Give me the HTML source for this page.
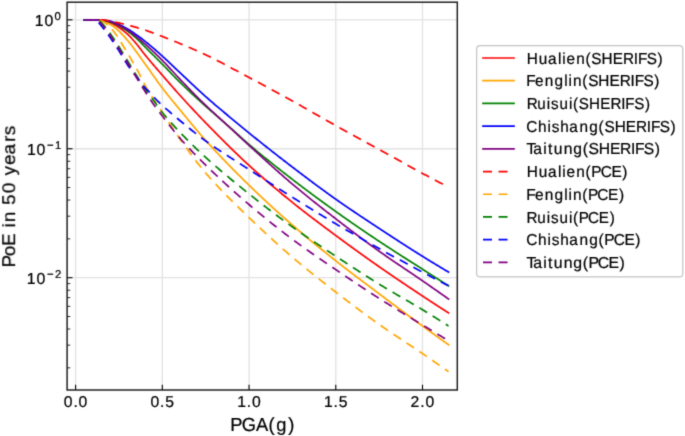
<!DOCTYPE html><html><head><meta charset="utf-8"><style>
html,body{margin:0;padding:0;background:#fff;width:685px;height:436px;overflow:hidden}
svg{display:block} text{font-family:"Liberation Sans",sans-serif;fill:#000;stroke:#000;stroke-width:0.22px}
</style></head><body>
<svg width="685" height="436" viewBox="0 0 685 436">
<defs><filter id="soft" x="0" y="0" width="1" height="1" color-interpolation-filters="sRGB"><feConvolveMatrix order="3" kernelMatrix="0.01917 0.10012 0.01917 0.10012 0.52283 0.10012 0.01917 0.10012 0.01917" divisor="1" edgeMode="duplicate"/></filter></defs>
<g filter="url(#soft)">
<rect x="0" y="0" width="685" height="436" fill="#fff"/>
<g stroke="#e2e2e2" stroke-width="1.3" fill="none">
<line x1="75.60" y1="2.2" x2="75.60" y2="390.0"/>
<line x1="162.32" y1="2.2" x2="162.32" y2="390.0"/>
<line x1="249.05" y1="2.2" x2="249.05" y2="390.0"/>
<line x1="335.77" y1="2.2" x2="335.77" y2="390.0"/>
<line x1="422.50" y1="2.2" x2="422.50" y2="390.0"/>
<line x1="67.1" y1="19.80" x2="457.3" y2="19.80"/>
<line x1="67.1" y1="148.75" x2="457.3" y2="148.75"/>
<line x1="67.1" y1="277.70" x2="457.3" y2="277.70"/>
</g>
<defs><clipPath id="ax"><rect x="67.1" y="2.2" width="390.2" height="387.8"/></clipPath></defs>
<g clip-path="url(#ax)" fill="none" stroke-width="1.70" stroke-linejoin="round">
<path d="M84.27 19.80 L85.19 19.80 L86.10 19.80 L87.01 19.80 L87.92 19.80 L88.84 19.80 L89.75 19.80 L90.66 19.80 L91.58 19.80 L92.49 19.80 L93.40 19.80 L94.31 19.80 L95.23 19.80 L96.14 19.80 L97.05 19.81 L97.97 19.85 L98.88 19.91 L99.79 20.00 L100.70 20.10 L101.62 20.20 L102.53 20.33 L103.44 20.51 L104.36 20.74 L105.27 21.00 L106.18 21.29 L107.09 21.60 L108.01 21.93 L108.92 22.27 L109.83 22.62 L110.75 22.98 L111.66 23.38 L112.57 23.81 L113.49 24.28 L114.40 24.77 L115.31 25.29 L116.22 25.82 L117.14 26.38 L118.05 26.95 L118.96 27.55 L119.88 28.17 L120.79 28.81 L121.70 29.47 L122.61 30.16 L123.53 30.86 L124.44 31.59 L125.35 32.34 L126.27 33.11 L127.18 33.90 L128.09 34.71 L129.00 35.58 L129.92 36.49 L130.83 37.45 L131.74 38.45 L132.66 39.47 L133.57 40.51 L134.48 41.57 L135.39 42.64 L136.31 43.71 L137.22 44.81 L138.13 45.96 L139.05 47.12 L139.96 48.31 L140.87 49.51 L141.78 50.71 L142.70 51.90 L143.61 53.08 L144.52 54.23 L145.44 55.36 L146.35 56.47 L147.26 57.58 L148.18 58.68 L149.09 59.77 L150.00 60.86 L150.91 61.94 L151.83 63.01 L152.74 64.08 L153.65 65.15 L154.57 66.22 L155.48 67.28 L156.39 68.34 L157.30 69.39 L158.22 70.45 L159.13 71.50 L160.04 72.56 L160.96 73.62 L161.87 74.67 L162.78 75.73 L163.69 76.79 L164.61 77.84 L165.52 78.90 L166.43 79.96 L167.35 81.01 L168.26 82.06 L169.17 83.12 L170.08 84.17 L171.00 85.21 L171.91 86.26 L172.82 87.30 L173.74 88.34 L174.65 89.38 L175.56 90.41 L176.47 91.44 L177.39 92.46 L178.30 93.48 L179.21 94.49 L180.13 95.50 L181.04 96.51 L181.95 97.52 L182.87 98.52 L183.78 99.52 L184.69 100.52 L185.60 101.52 L186.52 102.51 L187.43 103.50 L188.34 104.49 L189.26 105.48 L190.17 106.46 L191.08 107.44 L191.99 108.42 L192.91 109.40 L193.82 110.38 L194.73 111.35 L195.65 112.32 L196.56 113.28 L197.47 114.25 L198.38 115.21 L199.30 116.17 L200.21 117.12 L201.12 118.08 L202.04 119.03 L202.95 119.97 L203.86 120.92 L204.77 121.86 L205.69 122.80 L206.60 123.74 L207.51 124.67 L208.43 125.61 L209.34 126.54 L210.25 127.48 L211.16 128.41 L212.08 129.34 L212.99 130.27 L213.90 131.20 L214.82 132.13 L215.73 133.05 L216.64 133.98 L217.56 134.90 L218.47 135.82 L219.38 136.74 L220.29 137.66 L221.21 138.58 L222.12 139.49 L223.03 140.41 L223.95 141.32 L224.86 142.23 L225.77 143.14 L226.68 144.04 L227.60 144.94 L228.51 145.84 L229.42 146.74 L230.34 147.64 L231.25 148.53 L232.16 149.42 L233.07 150.31 L233.99 151.20 L234.90 152.08 L235.81 152.96 L236.73 153.84 L237.64 154.72 L238.55 155.59 L239.46 156.46 L240.38 157.33 L241.29 158.19 L242.20 159.05 L243.12 159.91 L244.03 160.76 L244.94 161.61 L245.85 162.46 L246.77 163.30 L247.68 164.15 L248.59 164.98 L249.51 165.82 L250.42 166.65 L251.33 167.48 L252.25 168.30 L253.16 169.12 L254.07 169.94 L254.98 170.76 L255.90 171.58 L256.81 172.39 L257.72 173.20 L258.64 174.01 L259.55 174.81 L260.46 175.61 L261.37 176.41 L262.29 177.21 L263.20 178.01 L264.11 178.80 L265.03 179.59 L265.94 180.38 L266.85 181.17 L267.76 181.95 L268.68 182.73 L269.59 183.51 L270.50 184.29 L271.42 185.06 L272.33 185.84 L273.24 186.61 L274.15 187.38 L275.07 188.15 L275.98 188.91 L276.89 189.68 L277.81 190.44 L278.72 191.20 L279.63 191.96 L280.54 192.71 L281.46 193.47 L282.37 194.22 L283.28 194.97 L284.20 195.72 L285.11 196.47 L286.02 197.22 L286.94 197.96 L287.85 198.70 L288.76 199.45 L289.67 200.19 L290.59 200.93 L291.50 201.66 L292.41 202.40 L293.33 203.13 L294.24 203.87 L295.15 204.60 L296.06 205.32 L296.98 206.05 L297.89 206.77 L298.80 207.49 L299.72 208.21 L300.63 208.93 L301.54 209.64 L302.45 210.36 L303.37 211.07 L304.28 211.78 L305.19 212.49 L306.11 213.19 L307.02 213.90 L307.93 214.60 L308.84 215.30 L309.76 216.00 L310.67 216.70 L311.58 217.39 L312.50 218.09 L313.41 218.78 L314.32 219.48 L315.23 220.17 L316.15 220.86 L317.06 221.55 L317.97 222.23 L318.89 222.92 L319.80 223.61 L320.71 224.29 L321.63 224.98 L322.54 225.66 L323.45 226.34 L324.36 227.02 L325.28 227.70 L326.19 228.38 L327.10 229.06 L328.02 229.74 L328.93 230.42 L329.84 231.10 L330.75 231.78 L331.67 232.46 L332.58 233.13 L333.49 233.81 L334.41 234.49 L335.32 235.16 L336.23 235.84 L337.14 236.51 L338.06 237.19 L338.97 237.86 L339.88 238.54 L340.80 239.21 L341.71 239.88 L342.62 240.55 L343.53 241.22 L344.45 241.89 L345.36 242.56 L346.27 243.23 L347.19 243.89 L348.10 244.56 L349.01 245.22 L349.92 245.89 L350.84 246.55 L351.75 247.21 L352.66 247.88 L353.58 248.54 L354.49 249.20 L355.40 249.86 L356.32 250.52 L357.23 251.17 L358.14 251.83 L359.05 252.49 L359.97 253.14 L360.88 253.80 L361.79 254.45 L362.71 255.10 L363.62 255.75 L364.53 256.41 L365.44 257.06 L366.36 257.70 L367.27 258.35 L368.18 259.00 L369.10 259.65 L370.01 260.29 L370.92 260.94 L371.83 261.58 L372.75 262.22 L373.66 262.87 L374.57 263.51 L375.49 264.15 L376.40 264.79 L377.31 265.43 L378.22 266.06 L379.14 266.70 L380.05 267.34 L380.96 267.97 L381.88 268.60 L382.79 269.24 L383.70 269.87 L384.61 270.50 L385.53 271.13 L386.44 271.76 L387.35 272.38 L388.27 273.01 L389.18 273.64 L390.09 274.26 L391.01 274.89 L391.92 275.51 L392.83 276.13 L393.74 276.75 L394.66 277.37 L395.57 277.99 L396.48 278.61 L397.40 279.23 L398.31 279.85 L399.22 280.47 L400.13 281.08 L401.05 281.70 L401.96 282.31 L402.87 282.93 L403.79 283.54 L404.70 284.15 L405.61 284.76 L406.52 285.38 L407.44 285.99 L408.35 286.60 L409.26 287.21 L410.18 287.82 L411.09 288.43 L412.00 289.03 L412.91 289.64 L413.83 290.25 L414.74 290.86 L415.65 291.46 L416.57 292.07 L417.48 292.67 L418.39 293.28 L419.30 293.89 L420.22 294.49 L421.13 295.09 L422.04 295.70 L422.96 296.30 L423.87 296.90 L424.78 297.51 L425.70 298.11 L426.61 298.71 L427.52 299.31 L428.43 299.91 L429.35 300.50 L430.26 301.10 L431.17 301.70 L432.09 302.29 L433.00 302.89 L433.91 303.48 L434.82 304.08 L435.74 304.67 L436.65 305.26 L437.56 305.85 L438.48 306.44 L439.39 307.03 L440.30 307.62 L441.21 308.21 L442.13 308.80 L443.04 309.39 L443.95 309.97 L444.87 310.56 L445.78 311.15 L446.69 311.73 L447.60 312.32 L448.52 312.90" stroke="#ff0000" stroke-linecap="square"/>
<path d="M84.27 19.80 L85.19 19.80 L86.10 19.80 L87.01 19.80 L87.92 19.80 L88.84 19.80 L89.75 19.80 L90.66 19.80 L91.58 19.80 L92.49 19.80 L93.40 19.80 L94.31 19.80 L95.23 19.80 L96.14 19.80 L97.05 19.82 L97.97 19.88 L98.88 20.00 L99.79 20.15 L100.70 20.32 L101.62 20.50 L102.53 20.72 L103.44 21.01 L104.36 21.37 L105.27 21.78 L106.18 22.23 L107.09 22.71 L108.01 23.21 L108.92 23.73 L109.83 24.24 L110.75 24.76 L111.66 25.30 L112.57 25.89 L113.49 26.50 L114.40 27.16 L115.31 27.84 L116.22 28.57 L117.14 29.34 L118.05 30.16 L118.96 31.01 L119.88 31.91 L120.79 32.84 L121.70 33.80 L122.61 34.78 L123.53 35.79 L124.44 36.82 L125.35 37.86 L126.27 38.91 L127.18 39.97 L128.09 41.04 L129.00 42.13 L129.92 43.25 L130.83 44.40 L131.74 45.57 L132.66 46.76 L133.57 47.97 L134.48 49.20 L135.39 50.45 L136.31 51.70 L137.22 52.97 L138.13 54.24 L139.05 55.52 L139.96 56.80 L140.87 58.09 L141.78 59.37 L142.70 60.64 L143.61 61.91 L144.52 63.17 L145.44 64.43 L146.35 65.69 L147.26 66.96 L148.18 68.24 L149.09 69.53 L150.00 70.82 L150.91 72.12 L151.83 73.42 L152.74 74.72 L153.65 76.02 L154.57 77.32 L155.48 78.61 L156.39 79.90 L157.30 81.18 L158.22 82.45 L159.13 83.70 L160.04 84.95 L160.96 86.18 L161.87 87.40 L162.78 88.60 L163.69 89.78 L164.61 90.96 L165.52 92.13 L166.43 93.29 L167.35 94.43 L168.26 95.58 L169.17 96.71 L170.08 97.84 L171.00 98.96 L171.91 100.08 L172.82 101.20 L173.74 102.31 L174.65 103.41 L175.56 104.52 L176.47 105.63 L177.39 106.73 L178.30 107.84 L179.21 108.95 L180.13 110.05 L181.04 111.16 L181.95 112.28 L182.87 113.39 L183.78 114.50 L184.69 115.61 L185.60 116.72 L186.52 117.83 L187.43 118.94 L188.34 120.05 L189.26 121.16 L190.17 122.26 L191.08 123.36 L191.99 124.46 L192.91 125.56 L193.82 126.65 L194.73 127.74 L195.65 128.83 L196.56 129.91 L197.47 130.98 L198.38 132.05 L199.30 133.12 L200.21 134.18 L201.12 135.23 L202.04 136.28 L202.95 137.32 L203.86 138.36 L204.77 139.38 L205.69 140.40 L206.60 141.41 L207.51 142.42 L208.43 143.43 L209.34 144.43 L210.25 145.43 L211.16 146.42 L212.08 147.41 L212.99 148.40 L213.90 149.39 L214.82 150.37 L215.73 151.35 L216.64 152.32 L217.56 153.29 L218.47 154.26 L219.38 155.23 L220.29 156.19 L221.21 157.15 L222.12 158.10 L223.03 159.06 L223.95 160.01 L224.86 160.96 L225.77 161.90 L226.68 162.84 L227.60 163.78 L228.51 164.72 L229.42 165.65 L230.34 166.59 L231.25 167.52 L232.16 168.44 L233.07 169.37 L233.99 170.29 L234.90 171.21 L235.81 172.13 L236.73 173.04 L237.64 173.95 L238.55 174.86 L239.46 175.77 L240.38 176.68 L241.29 177.59 L242.20 178.49 L243.12 179.39 L244.03 180.29 L244.94 181.18 L245.85 182.08 L246.77 182.97 L247.68 183.87 L248.59 184.76 L249.51 185.64 L250.42 186.53 L251.33 187.41 L252.25 188.30 L253.16 189.18 L254.07 190.06 L254.98 190.93 L255.90 191.80 L256.81 192.68 L257.72 193.55 L258.64 194.41 L259.55 195.28 L260.46 196.14 L261.37 197.00 L262.29 197.86 L263.20 198.72 L264.11 199.58 L265.03 200.43 L265.94 201.28 L266.85 202.13 L267.76 202.98 L268.68 203.82 L269.59 204.66 L270.50 205.51 L271.42 206.34 L272.33 207.18 L273.24 208.02 L274.15 208.85 L275.07 209.68 L275.98 210.51 L276.89 211.34 L277.81 212.16 L278.72 212.99 L279.63 213.81 L280.54 214.63 L281.46 215.44 L282.37 216.26 L283.28 217.07 L284.20 217.88 L285.11 218.69 L286.02 219.50 L286.94 220.31 L287.85 221.11 L288.76 221.91 L289.67 222.71 L290.59 223.51 L291.50 224.31 L292.41 225.10 L293.33 225.89 L294.24 226.68 L295.15 227.47 L296.06 228.26 L296.98 229.04 L297.89 229.82 L298.80 230.60 L299.72 231.38 L300.63 232.15 L301.54 232.93 L302.45 233.70 L303.37 234.47 L304.28 235.23 L305.19 236.00 L306.11 236.76 L307.02 237.52 L307.93 238.28 L308.84 239.04 L309.76 239.80 L310.67 240.56 L311.58 241.31 L312.50 242.06 L313.41 242.81 L314.32 243.56 L315.23 244.31 L316.15 245.05 L317.06 245.80 L317.97 246.54 L318.89 247.28 L319.80 248.02 L320.71 248.76 L321.63 249.50 L322.54 250.24 L323.45 250.97 L324.36 251.71 L325.28 252.44 L326.19 253.17 L327.10 253.90 L328.02 254.63 L328.93 255.36 L329.84 256.09 L330.75 256.82 L331.67 257.54 L332.58 258.27 L333.49 258.99 L334.41 259.72 L335.32 260.44 L336.23 261.16 L337.14 261.88 L338.06 262.60 L338.97 263.32 L339.88 264.03 L340.80 264.74 L341.71 265.45 L342.62 266.16 L343.53 266.87 L344.45 267.58 L345.36 268.28 L346.27 268.99 L347.19 269.69 L348.10 270.39 L349.01 271.09 L349.92 271.79 L350.84 272.49 L351.75 273.18 L352.66 273.88 L353.58 274.57 L354.49 275.27 L355.40 275.96 L356.32 276.65 L357.23 277.34 L358.14 278.03 L359.05 278.72 L359.97 279.41 L360.88 280.10 L361.79 280.78 L362.71 281.47 L363.62 282.16 L364.53 282.84 L365.44 283.53 L366.36 284.21 L367.27 284.90 L368.18 285.58 L369.10 286.27 L370.01 286.95 L370.92 287.64 L371.83 288.32 L372.75 289.00 L373.66 289.69 L374.57 290.37 L375.49 291.06 L376.40 291.74 L377.31 292.43 L378.22 293.11 L379.14 293.80 L380.05 294.49 L380.96 295.17 L381.88 295.86 L382.79 296.54 L383.70 297.23 L384.61 297.91 L385.53 298.60 L386.44 299.28 L387.35 299.97 L388.27 300.65 L389.18 301.33 L390.09 302.02 L391.01 302.70 L391.92 303.38 L392.83 304.07 L393.74 304.75 L394.66 305.43 L395.57 306.11 L396.48 306.79 L397.40 307.47 L398.31 308.15 L399.22 308.83 L400.13 309.51 L401.05 310.19 L401.96 310.87 L402.87 311.55 L403.79 312.22 L404.70 312.90 L405.61 313.58 L406.52 314.25 L407.44 314.93 L408.35 315.61 L409.26 316.28 L410.18 316.95 L411.09 317.63 L412.00 318.30 L412.91 318.97 L413.83 319.65 L414.74 320.32 L415.65 320.99 L416.57 321.66 L417.48 322.33 L418.39 323.00 L419.30 323.67 L420.22 324.33 L421.13 325.00 L422.04 325.67 L422.96 326.33 L423.87 327.00 L424.78 327.66 L425.70 328.33 L426.61 328.99 L427.52 329.65 L428.43 330.31 L429.35 330.97 L430.26 331.63 L431.17 332.29 L432.09 332.95 L433.00 333.61 L433.91 334.27 L434.82 334.92 L435.74 335.58 L436.65 336.23 L437.56 336.89 L438.48 337.54 L439.39 338.20 L440.30 338.85 L441.21 339.50 L442.13 340.15 L443.04 340.80 L443.95 341.45 L444.87 342.10 L445.78 342.75 L446.69 343.40 L447.60 344.05 L448.52 344.70" stroke="#ffa500" stroke-linecap="square"/>
<path d="M84.27 19.80 L85.19 19.80 L86.10 19.80 L87.01 19.80 L87.92 19.80 L88.84 19.80 L89.75 19.80 L90.66 19.80 L91.58 19.80 L92.49 19.80 L93.40 19.80 L94.31 19.80 L95.23 19.80 L96.14 19.80 L97.05 19.81 L97.97 19.85 L98.88 19.92 L99.79 20.00 L100.70 20.10 L101.62 20.20 L102.53 20.31 L103.44 20.44 L104.36 20.60 L105.27 20.77 L106.18 20.96 L107.09 21.17 L108.01 21.39 L108.92 21.63 L109.83 21.87 L110.75 22.13 L111.66 22.44 L112.57 22.78 L113.49 23.15 L114.40 23.55 L115.31 23.97 L116.22 24.40 L117.14 24.85 L118.05 25.32 L118.96 25.81 L119.88 26.33 L120.79 26.86 L121.70 27.41 L122.61 27.97 L123.53 28.55 L124.44 29.15 L125.35 29.75 L126.27 30.36 L127.18 30.99 L128.09 31.62 L129.00 32.27 L129.92 32.94 L130.83 33.64 L131.74 34.36 L132.66 35.09 L133.57 35.84 L134.48 36.62 L135.39 37.40 L136.31 38.21 L137.22 39.05 L138.13 39.92 L139.05 40.82 L139.96 41.75 L140.87 42.68 L141.78 43.63 L142.70 44.57 L143.61 45.51 L144.52 46.44 L145.44 47.36 L146.35 48.26 L147.26 49.17 L148.18 50.08 L149.09 50.99 L150.00 51.89 L150.91 52.80 L151.83 53.71 L152.74 54.61 L153.65 55.52 L154.57 56.43 L155.48 57.34 L156.39 58.25 L157.30 59.16 L158.22 60.07 L159.13 60.98 L160.04 61.90 L160.96 62.82 L161.87 63.74 L162.78 64.66 L163.69 65.59 L164.61 66.53 L165.52 67.47 L166.43 68.41 L167.35 69.36 L168.26 70.31 L169.17 71.26 L170.08 72.21 L171.00 73.16 L171.91 74.11 L172.82 75.06 L173.74 76.00 L174.65 76.94 L175.56 77.88 L176.47 78.81 L177.39 79.73 L178.30 80.64 L179.21 81.55 L180.13 82.45 L181.04 83.34 L181.95 84.23 L182.87 85.11 L183.78 86.00 L184.69 86.87 L185.60 87.75 L186.52 88.62 L187.43 89.48 L188.34 90.34 L189.26 91.20 L190.17 92.06 L191.08 92.92 L191.99 93.77 L192.91 94.61 L193.82 95.46 L194.73 96.30 L195.65 97.15 L196.56 97.99 L197.47 98.82 L198.38 99.66 L199.30 100.49 L200.21 101.32 L201.12 102.15 L202.04 102.98 L202.95 103.80 L203.86 104.62 L204.77 105.44 L205.69 106.25 L206.60 107.06 L207.51 107.87 L208.43 108.67 L209.34 109.48 L210.25 110.28 L211.16 111.08 L212.08 111.87 L212.99 112.67 L213.90 113.47 L214.82 114.26 L215.73 115.06 L216.64 115.85 L217.56 116.64 L218.47 117.43 L219.38 118.23 L220.29 119.02 L221.21 119.81 L222.12 120.60 L223.03 121.40 L223.95 122.19 L224.86 122.99 L225.77 123.78 L226.68 124.58 L227.60 125.38 L228.51 126.18 L229.42 126.98 L230.34 127.79 L231.25 128.60 L232.16 129.41 L233.07 130.22 L233.99 131.04 L234.90 131.86 L235.81 132.69 L236.73 133.51 L237.64 134.34 L238.55 135.17 L239.46 136.00 L240.38 136.82 L241.29 137.65 L242.20 138.47 L243.12 139.29 L244.03 140.11 L244.94 140.92 L245.85 141.73 L246.77 142.53 L247.68 143.32 L248.59 144.11 L249.51 144.89 L250.42 145.67 L251.33 146.44 L252.25 147.21 L253.16 147.98 L254.07 148.75 L254.98 149.51 L255.90 150.28 L256.81 151.04 L257.72 151.80 L258.64 152.55 L259.55 153.31 L260.46 154.06 L261.37 154.81 L262.29 155.56 L263.20 156.30 L264.11 157.05 L265.03 157.79 L265.94 158.53 L266.85 159.27 L267.76 160.01 L268.68 160.75 L269.59 161.48 L270.50 162.21 L271.42 162.94 L272.33 163.67 L273.24 164.40 L274.15 165.13 L275.07 165.85 L275.98 166.58 L276.89 167.30 L277.81 168.02 L278.72 168.74 L279.63 169.46 L280.54 170.17 L281.46 170.89 L282.37 171.60 L283.28 172.32 L284.20 173.03 L285.11 173.74 L286.02 174.45 L286.94 175.16 L287.85 175.87 L288.76 176.58 L289.67 177.28 L290.59 177.99 L291.50 178.70 L292.41 179.40 L293.33 180.10 L294.24 180.81 L295.15 181.51 L296.06 182.21 L296.98 182.90 L297.89 183.60 L298.80 184.30 L299.72 184.99 L300.63 185.68 L301.54 186.38 L302.45 187.07 L303.37 187.76 L304.28 188.44 L305.19 189.13 L306.11 189.82 L307.02 190.50 L307.93 191.18 L308.84 191.87 L309.76 192.55 L310.67 193.23 L311.58 193.91 L312.50 194.58 L313.41 195.26 L314.32 195.94 L315.23 196.61 L316.15 197.28 L317.06 197.95 L317.97 198.63 L318.89 199.30 L319.80 199.96 L320.71 200.63 L321.63 201.30 L322.54 201.96 L323.45 202.63 L324.36 203.29 L325.28 203.95 L326.19 204.62 L327.10 205.28 L328.02 205.93 L328.93 206.59 L329.84 207.25 L330.75 207.91 L331.67 208.56 L332.58 209.22 L333.49 209.87 L334.41 210.52 L335.32 211.17 L336.23 211.83 L337.14 212.47 L338.06 213.12 L338.97 213.77 L339.88 214.42 L340.80 215.06 L341.71 215.71 L342.62 216.35 L343.53 216.99 L344.45 217.63 L345.36 218.27 L346.27 218.91 L347.19 219.55 L348.10 220.19 L349.01 220.82 L349.92 221.46 L350.84 222.09 L351.75 222.73 L352.66 223.36 L353.58 223.99 L354.49 224.62 L355.40 225.25 L356.32 225.88 L357.23 226.50 L358.14 227.13 L359.05 227.76 L359.97 228.38 L360.88 229.00 L361.79 229.63 L362.71 230.25 L363.62 230.87 L364.53 231.49 L365.44 232.11 L366.36 232.73 L367.27 233.35 L368.18 233.96 L369.10 234.58 L370.01 235.19 L370.92 235.81 L371.83 236.42 L372.75 237.03 L373.66 237.65 L374.57 238.26 L375.49 238.87 L376.40 239.48 L377.31 240.09 L378.22 240.69 L379.14 241.30 L380.05 241.91 L380.96 242.51 L381.88 243.11 L382.79 243.71 L383.70 244.31 L384.61 244.91 L385.53 245.51 L386.44 246.11 L387.35 246.70 L388.27 247.30 L389.18 247.89 L390.09 248.48 L391.01 249.07 L391.92 249.66 L392.83 250.25 L393.74 250.84 L394.66 251.42 L395.57 252.01 L396.48 252.60 L397.40 253.18 L398.31 253.77 L399.22 254.35 L400.13 254.93 L401.05 255.52 L401.96 256.10 L402.87 256.68 L403.79 257.26 L404.70 257.84 L405.61 258.42 L406.52 259.01 L407.44 259.59 L408.35 260.17 L409.26 260.75 L410.18 261.33 L411.09 261.91 L412.00 262.49 L412.91 263.07 L413.83 263.65 L414.74 264.24 L415.65 264.82 L416.57 265.40 L417.48 265.98 L418.39 266.57 L419.30 267.15 L420.22 267.74 L421.13 268.32 L422.04 268.91 L422.96 269.49 L423.87 270.08 L424.78 270.67 L425.70 271.25 L426.61 271.84 L427.52 272.43 L428.43 273.01 L429.35 273.60 L430.26 274.18 L431.17 274.77 L432.09 275.36 L433.00 275.94 L433.91 276.53 L434.82 277.11 L435.74 277.70 L436.65 278.29 L437.56 278.87 L438.48 279.46 L439.39 280.04 L440.30 280.63 L441.21 281.22 L442.13 281.80 L443.04 282.39 L443.95 282.97 L444.87 283.56 L445.78 284.14 L446.69 284.73 L447.60 285.31 L448.52 285.90" stroke="#008000" stroke-linecap="square"/>
<path d="M84.27 19.80 L85.19 19.80 L86.10 19.80 L87.01 19.80 L87.92 19.80 L88.84 19.80 L89.75 19.80 L90.66 19.80 L91.58 19.80 L92.49 19.80 L93.40 19.80 L94.31 19.80 L95.23 19.80 L96.14 19.80 L97.05 19.81 L97.97 19.84 L98.88 19.89 L99.79 19.95 L100.70 20.03 L101.62 20.10 L102.53 20.18 L103.44 20.26 L104.36 20.36 L105.27 20.47 L106.18 20.60 L107.09 20.73 L108.01 20.88 L108.92 21.04 L109.83 21.21 L110.75 21.40 L111.66 21.65 L112.57 21.95 L113.49 22.29 L114.40 22.65 L115.31 23.02 L116.22 23.38 L117.14 23.76 L118.05 24.14 L118.96 24.54 L119.88 24.94 L120.79 25.36 L121.70 25.80 L122.61 26.24 L123.53 26.70 L124.44 27.16 L125.35 27.65 L126.27 28.14 L127.18 28.64 L128.09 29.16 L129.00 29.71 L129.92 30.29 L130.83 30.90 L131.74 31.52 L132.66 32.15 L133.57 32.80 L134.48 33.45 L135.39 34.10 L136.31 34.75 L137.22 35.39 L138.13 36.05 L139.05 36.71 L139.96 37.38 L140.87 38.05 L141.78 38.74 L142.70 39.43 L143.61 40.13 L144.52 40.84 L145.44 41.56 L146.35 42.29 L147.26 43.03 L148.18 43.78 L149.09 44.54 L150.00 45.30 L150.91 46.07 L151.83 46.85 L152.74 47.63 L153.65 48.42 L154.57 49.21 L155.48 50.01 L156.39 50.81 L157.30 51.62 L158.22 52.43 L159.13 53.24 L160.04 54.06 L160.96 54.87 L161.87 55.69 L162.78 56.51 L163.69 57.34 L164.61 58.17 L165.52 59.02 L166.43 59.86 L167.35 60.72 L168.26 61.57 L169.17 62.44 L170.08 63.30 L171.00 64.17 L171.91 65.04 L172.82 65.91 L173.74 66.78 L174.65 67.65 L175.56 68.52 L176.47 69.39 L177.39 70.25 L178.30 71.11 L179.21 71.97 L180.13 72.83 L181.04 73.68 L181.95 74.54 L182.87 75.40 L183.78 76.26 L184.69 77.12 L185.60 77.98 L186.52 78.84 L187.43 79.71 L188.34 80.57 L189.26 81.43 L190.17 82.29 L191.08 83.15 L191.99 84.01 L192.91 84.87 L193.82 85.72 L194.73 86.58 L195.65 87.43 L196.56 88.28 L197.47 89.13 L198.38 89.97 L199.30 90.82 L200.21 91.65 L201.12 92.49 L202.04 93.32 L202.95 94.15 L203.86 94.97 L204.77 95.79 L205.69 96.60 L206.60 97.41 L207.51 98.21 L208.43 99.01 L209.34 99.81 L210.25 100.61 L211.16 101.40 L212.08 102.18 L212.99 102.97 L213.90 103.75 L214.82 104.53 L215.73 105.31 L216.64 106.08 L217.56 106.86 L218.47 107.63 L219.38 108.40 L220.29 109.16 L221.21 109.93 L222.12 110.70 L223.03 111.46 L223.95 112.22 L224.86 112.99 L225.77 113.75 L226.68 114.51 L227.60 115.27 L228.51 116.03 L229.42 116.79 L230.34 117.56 L231.25 118.32 L232.16 119.08 L233.07 119.84 L233.99 120.61 L234.90 121.37 L235.81 122.13 L236.73 122.89 L237.64 123.64 L238.55 124.40 L239.46 125.16 L240.38 125.91 L241.29 126.66 L242.20 127.42 L243.12 128.17 L244.03 128.91 L244.94 129.66 L245.85 130.41 L246.77 131.15 L247.68 131.89 L248.59 132.63 L249.51 133.37 L250.42 134.11 L251.33 134.84 L252.25 135.58 L253.16 136.31 L254.07 137.04 L254.98 137.78 L255.90 138.51 L256.81 139.24 L257.72 139.97 L258.64 140.70 L259.55 141.43 L260.46 142.16 L261.37 142.89 L262.29 143.61 L263.20 144.34 L264.11 145.06 L265.03 145.79 L265.94 146.51 L266.85 147.23 L267.76 147.95 L268.68 148.68 L269.59 149.40 L270.50 150.11 L271.42 150.83 L272.33 151.55 L273.24 152.27 L274.15 152.98 L275.07 153.70 L275.98 154.41 L276.89 155.12 L277.81 155.84 L278.72 156.55 L279.63 157.26 L280.54 157.97 L281.46 158.67 L282.37 159.38 L283.28 160.09 L284.20 160.79 L285.11 161.50 L286.02 162.20 L286.94 162.90 L287.85 163.61 L288.76 164.31 L289.67 165.01 L290.59 165.71 L291.50 166.40 L292.41 167.10 L293.33 167.80 L294.24 168.49 L295.15 169.19 L296.06 169.88 L296.98 170.58 L297.89 171.27 L298.80 171.96 L299.72 172.66 L300.63 173.35 L301.54 174.04 L302.45 174.73 L303.37 175.42 L304.28 176.11 L305.19 176.80 L306.11 177.48 L307.02 178.17 L307.93 178.86 L308.84 179.54 L309.76 180.23 L310.67 180.91 L311.58 181.59 L312.50 182.27 L313.41 182.95 L314.32 183.63 L315.23 184.31 L316.15 184.99 L317.06 185.66 L317.97 186.34 L318.89 187.01 L319.80 187.68 L320.71 188.35 L321.63 189.02 L322.54 189.69 L323.45 190.35 L324.36 191.02 L325.28 191.68 L326.19 192.34 L327.10 193.01 L328.02 193.66 L328.93 194.32 L329.84 194.98 L330.75 195.63 L331.67 196.28 L332.58 196.94 L333.49 197.58 L334.41 198.23 L335.32 198.88 L336.23 199.52 L337.14 200.16 L338.06 200.80 L338.97 201.44 L339.88 202.08 L340.80 202.71 L341.71 203.35 L342.62 203.98 L343.53 204.61 L344.45 205.24 L345.36 205.87 L346.27 206.49 L347.19 207.12 L348.10 207.74 L349.01 208.36 L349.92 208.98 L350.84 209.60 L351.75 210.22 L352.66 210.83 L353.58 211.45 L354.49 212.07 L355.40 212.68 L356.32 213.29 L357.23 213.90 L358.14 214.51 L359.05 215.12 L359.97 215.73 L360.88 216.34 L361.79 216.95 L362.71 217.56 L363.62 218.16 L364.53 218.77 L365.44 219.37 L366.36 219.98 L367.27 220.58 L368.18 221.18 L369.10 221.79 L370.01 222.39 L370.92 222.99 L371.83 223.59 L372.75 224.19 L373.66 224.79 L374.57 225.40 L375.49 226.00 L376.40 226.60 L377.31 227.20 L378.22 227.80 L379.14 228.40 L380.05 229.00 L380.96 229.60 L381.88 230.20 L382.79 230.80 L383.70 231.40 L384.61 232.00 L385.53 232.60 L386.44 233.19 L387.35 233.79 L388.27 234.39 L389.18 234.98 L390.09 235.58 L391.01 236.17 L391.92 236.77 L392.83 237.36 L393.74 237.96 L394.66 238.55 L395.57 239.14 L396.48 239.74 L397.40 240.33 L398.31 240.92 L399.22 241.51 L400.13 242.10 L401.05 242.69 L401.96 243.27 L402.87 243.86 L403.79 244.45 L404.70 245.03 L405.61 245.62 L406.52 246.20 L407.44 246.79 L408.35 247.37 L409.26 247.95 L410.18 248.53 L411.09 249.11 L412.00 249.69 L412.91 250.27 L413.83 250.85 L414.74 251.43 L415.65 252.01 L416.57 252.58 L417.48 253.16 L418.39 253.73 L419.30 254.30 L420.22 254.87 L421.13 255.45 L422.04 256.02 L422.96 256.58 L423.87 257.15 L424.78 257.72 L425.70 258.28 L426.61 258.85 L427.52 259.41 L428.43 259.97 L429.35 260.54 L430.26 261.10 L431.17 261.65 L432.09 262.21 L433.00 262.77 L433.91 263.33 L434.82 263.88 L435.74 264.43 L436.65 264.99 L437.56 265.54 L438.48 266.09 L439.39 266.64 L440.30 267.19 L441.21 267.74 L442.13 268.29 L443.04 268.83 L443.95 269.38 L444.87 269.93 L445.78 270.47 L446.69 271.01 L447.60 271.56 L448.52 272.10" stroke="#0000ff" stroke-linecap="square"/>
<path d="M84.27 19.80 L85.19 19.80 L86.10 19.80 L87.01 19.80 L87.92 19.80 L88.84 19.80 L89.75 19.80 L90.66 19.80 L91.58 19.80 L92.49 19.80 L93.40 19.80 L94.31 19.80 L95.23 19.80 L96.14 19.80 L97.05 19.81 L97.97 19.84 L98.88 19.89 L99.79 19.95 L100.70 20.02 L101.62 20.10 L102.53 20.18 L103.44 20.28 L104.36 20.40 L105.27 20.52 L106.18 20.67 L107.09 20.83 L108.01 21.00 L108.92 21.19 L109.83 21.39 L110.75 21.62 L111.66 21.91 L112.57 22.25 L113.49 22.64 L114.40 23.05 L115.31 23.48 L116.22 23.90 L117.14 24.32 L118.05 24.76 L118.96 25.22 L119.88 25.69 L120.79 26.17 L121.70 26.67 L122.61 27.18 L123.53 27.70 L124.44 28.23 L125.35 28.78 L126.27 29.34 L127.18 29.91 L128.09 30.50 L129.00 31.11 L129.92 31.75 L130.83 32.42 L131.74 33.10 L132.66 33.80 L133.57 34.51 L134.48 35.23 L135.39 35.95 L136.31 36.67 L137.22 37.41 L138.13 38.15 L139.05 38.90 L139.96 39.66 L140.87 40.43 L141.78 41.21 L142.70 42.00 L143.61 42.79 L144.52 43.60 L145.44 44.41 L146.35 45.22 L147.26 46.04 L148.18 46.87 L149.09 47.70 L150.00 48.54 L150.91 49.38 L151.83 50.23 L152.74 51.09 L153.65 51.95 L154.57 52.81 L155.48 53.69 L156.39 54.56 L157.30 55.45 L158.22 56.34 L159.13 57.23 L160.04 58.13 L160.96 59.03 L161.87 59.94 L162.78 60.86 L163.69 61.79 L164.61 62.73 L165.52 63.68 L166.43 64.64 L167.35 65.61 L168.26 66.59 L169.17 67.57 L170.08 68.56 L171.00 69.55 L171.91 70.54 L172.82 71.54 L173.74 72.53 L174.65 73.52 L175.56 74.51 L176.47 75.50 L177.39 76.48 L178.30 77.45 L179.21 78.42 L180.13 79.38 L181.04 80.34 L181.95 81.29 L182.87 82.25 L183.78 83.21 L184.69 84.17 L185.60 85.13 L186.52 86.08 L187.43 87.04 L188.34 87.99 L189.26 88.94 L190.17 89.89 L191.08 90.83 L191.99 91.77 L192.91 92.71 L193.82 93.64 L194.73 94.57 L195.65 95.50 L196.56 96.42 L197.47 97.33 L198.38 98.24 L199.30 99.14 L200.21 100.04 L201.12 100.93 L202.04 101.82 L202.95 102.70 L203.86 103.58 L204.77 104.45 L205.69 105.32 L206.60 106.18 L207.51 107.04 L208.43 107.90 L209.34 108.75 L210.25 109.60 L211.16 110.45 L212.08 111.30 L212.99 112.14 L213.90 112.98 L214.82 113.82 L215.73 114.66 L216.64 115.50 L217.56 116.33 L218.47 117.17 L219.38 118.00 L220.29 118.83 L221.21 119.67 L222.12 120.50 L223.03 121.33 L223.95 122.16 L224.86 123.00 L225.77 123.83 L226.68 124.67 L227.60 125.51 L228.51 126.35 L229.42 127.19 L230.34 128.03 L231.25 128.88 L232.16 129.72 L233.07 130.57 L233.99 131.42 L234.90 132.27 L235.81 133.13 L236.73 133.98 L237.64 134.83 L238.55 135.68 L239.46 136.53 L240.38 137.39 L241.29 138.24 L242.20 139.08 L243.12 139.93 L244.03 140.78 L244.94 141.62 L245.85 142.47 L246.77 143.31 L247.68 144.15 L248.59 144.98 L249.51 145.82 L250.42 146.65 L251.33 147.48 L252.25 148.32 L253.16 149.15 L254.07 149.98 L254.98 150.82 L255.90 151.65 L256.81 152.49 L257.72 153.32 L258.64 154.15 L259.55 154.98 L260.46 155.82 L261.37 156.65 L262.29 157.48 L263.20 158.31 L264.11 159.14 L265.03 159.97 L265.94 160.79 L266.85 161.62 L267.76 162.45 L268.68 163.27 L269.59 164.09 L270.50 164.92 L271.42 165.74 L272.33 166.56 L273.24 167.38 L274.15 168.19 L275.07 169.01 L275.98 169.82 L276.89 170.63 L277.81 171.44 L278.72 172.25 L279.63 173.06 L280.54 173.86 L281.46 174.66 L282.37 175.46 L283.28 176.26 L284.20 177.06 L285.11 177.85 L286.02 178.64 L286.94 179.43 L287.85 180.21 L288.76 181.00 L289.67 181.78 L290.59 182.55 L291.50 183.33 L292.41 184.10 L293.33 184.87 L294.24 185.64 L295.15 186.40 L296.06 187.16 L296.98 187.92 L297.89 188.68 L298.80 189.44 L299.72 190.19 L300.63 190.94 L301.54 191.70 L302.45 192.44 L303.37 193.19 L304.28 193.93 L305.19 194.68 L306.11 195.42 L307.02 196.16 L307.93 196.90 L308.84 197.63 L309.76 198.37 L310.67 199.10 L311.58 199.83 L312.50 200.56 L313.41 201.29 L314.32 202.02 L315.23 202.74 L316.15 203.47 L317.06 204.19 L317.97 204.91 L318.89 205.63 L319.80 206.35 L320.71 207.07 L321.63 207.79 L322.54 208.51 L323.45 209.22 L324.36 209.93 L325.28 210.65 L326.19 211.36 L327.10 212.07 L328.02 212.78 L328.93 213.49 L329.84 214.20 L330.75 214.91 L331.67 215.62 L332.58 216.33 L333.49 217.03 L334.41 217.74 L335.32 218.45 L336.23 219.15 L337.14 219.86 L338.06 220.56 L338.97 221.26 L339.88 221.97 L340.80 222.67 L341.71 223.37 L342.62 224.07 L343.53 224.77 L344.45 225.47 L345.36 226.17 L346.27 226.86 L347.19 227.56 L348.10 228.25 L349.01 228.95 L349.92 229.64 L350.84 230.33 L351.75 231.03 L352.66 231.72 L353.58 232.40 L354.49 233.09 L355.40 233.78 L356.32 234.47 L357.23 235.15 L358.14 235.83 L359.05 236.52 L359.97 237.20 L360.88 237.88 L361.79 238.56 L362.71 239.24 L363.62 239.91 L364.53 240.59 L365.44 241.26 L366.36 241.93 L367.27 242.60 L368.18 243.27 L369.10 243.94 L370.01 244.61 L370.92 245.28 L371.83 245.94 L372.75 246.60 L373.66 247.26 L374.57 247.92 L375.49 248.58 L376.40 249.24 L377.31 249.89 L378.22 250.55 L379.14 251.20 L380.05 251.85 L380.96 252.50 L381.88 253.14 L382.79 253.78 L383.70 254.42 L384.61 255.06 L385.53 255.70 L386.44 256.33 L387.35 256.96 L388.27 257.59 L389.18 258.22 L390.09 258.85 L391.01 259.47 L391.92 260.10 L392.83 260.72 L393.74 261.34 L394.66 261.96 L395.57 262.58 L396.48 263.19 L397.40 263.81 L398.31 264.43 L399.22 265.04 L400.13 265.66 L401.05 266.27 L401.96 266.89 L402.87 267.50 L403.79 268.11 L404.70 268.73 L405.61 269.34 L406.52 269.95 L407.44 270.57 L408.35 271.18 L409.26 271.79 L410.18 272.41 L411.09 273.02 L412.00 273.64 L412.91 274.26 L413.83 274.87 L414.74 275.49 L415.65 276.11 L416.57 276.73 L417.48 277.35 L418.39 277.98 L419.30 278.60 L420.22 279.23 L421.13 279.85 L422.04 280.48 L422.96 281.12 L423.87 281.75 L424.78 282.38 L425.70 283.01 L426.61 283.65 L427.52 284.28 L428.43 284.92 L429.35 285.55 L430.26 286.19 L431.17 286.82 L432.09 287.46 L433.00 288.10 L433.91 288.74 L434.82 289.37 L435.74 290.01 L436.65 290.65 L437.56 291.29 L438.48 291.93 L439.39 292.57 L440.30 293.21 L441.21 293.86 L442.13 294.50 L443.04 295.14 L443.95 295.78 L444.87 296.43 L445.78 297.07 L446.69 297.71 L447.60 298.36 L448.52 299.00" stroke="#800080" stroke-linecap="square"/>
<path d="M84.27 19.80 L85.19 19.80 L86.10 19.80 L87.01 19.80 L87.92 19.80 L88.84 19.80 L89.75 19.80 L90.66 19.80 L91.58 19.80 L92.49 19.80 L93.40 19.80 L94.31 19.80 L95.23 19.80 L96.14 19.80 L97.05 19.80 L97.97 19.83 L98.88 19.86 L99.79 19.90 L100.70 19.95 L101.62 20.00 L102.53 20.05 L103.44 20.11 L104.36 20.17 L105.27 20.25 L106.18 20.33 L107.09 20.42 L108.01 20.51 L108.92 20.62 L109.83 20.74 L110.75 20.87 L111.66 21.05 L112.57 21.27 L113.49 21.52 L114.40 21.77 L115.31 22.02 L116.22 22.25 L117.14 22.47 L118.05 22.69 L118.96 22.90 L119.88 23.11 L120.79 23.33 L121.70 23.54 L122.61 23.76 L123.53 23.97 L124.44 24.19 L125.35 24.42 L126.27 24.65 L127.18 24.88 L128.09 25.12 L129.00 25.36 L129.92 25.61 L130.83 25.86 L131.74 26.11 L132.66 26.36 L133.57 26.62 L134.48 26.88 L135.39 27.14 L136.31 27.41 L137.22 27.68 L138.13 27.95 L139.05 28.23 L139.96 28.51 L140.87 28.79 L141.78 29.08 L142.70 29.36 L143.61 29.66 L144.52 29.95 L145.44 30.25 L146.35 30.56 L147.26 30.87 L148.18 31.18 L149.09 31.51 L150.00 31.83 L150.91 32.16 L151.83 32.50 L152.74 32.84 L153.65 33.18 L154.57 33.52 L155.48 33.87 L156.39 34.22 L157.30 34.57 L158.22 34.92 L159.13 35.27 L160.04 35.62 L160.96 35.97 L161.87 36.33 L162.78 36.67 L163.69 37.03 L164.61 37.38 L165.52 37.73 L166.43 38.09 L167.35 38.44 L168.26 38.80 L169.17 39.16 L170.08 39.52 L171.00 39.88 L171.91 40.24 L172.82 40.61 L173.74 40.97 L174.65 41.34 L175.56 41.71 L176.47 42.08 L177.39 42.46 L178.30 42.83 L179.21 43.21 L180.13 43.59 L181.04 43.97 L181.95 44.35 L182.87 44.73 L183.78 45.12 L184.69 45.50 L185.60 45.88 L186.52 46.27 L187.43 46.66 L188.34 47.05 L189.26 47.44 L190.17 47.83 L191.08 48.22 L191.99 48.61 L192.91 49.01 L193.82 49.41 L194.73 49.81 L195.65 50.21 L196.56 50.62 L197.47 51.02 L198.38 51.43 L199.30 51.84 L200.21 52.26 L201.12 52.68 L202.04 53.09 L202.95 53.52 L203.86 53.94 L204.77 54.37 L205.69 54.80 L206.60 55.23 L207.51 55.67 L208.43 56.11 L209.34 56.56 L210.25 57.00 L211.16 57.45 L212.08 57.91 L212.99 58.36 L213.90 58.82 L214.82 59.28 L215.73 59.74 L216.64 60.21 L217.56 60.68 L218.47 61.15 L219.38 61.62 L220.29 62.10 L221.21 62.57 L222.12 63.05 L223.03 63.53 L223.95 64.01 L224.86 64.49 L225.77 64.98 L226.68 65.47 L227.60 65.95 L228.51 66.44 L229.42 66.93 L230.34 67.42 L231.25 67.91 L232.16 68.40 L233.07 68.89 L233.99 69.39 L234.90 69.88 L235.81 70.37 L236.73 70.87 L237.64 71.36 L238.55 71.85 L239.46 72.35 L240.38 72.84 L241.29 73.33 L242.20 73.83 L243.12 74.32 L244.03 74.81 L244.94 75.30 L245.85 75.79 L246.77 76.28 L247.68 76.77 L248.59 77.26 L249.51 77.74 L250.42 78.23 L251.33 78.72 L252.25 79.20 L253.16 79.69 L254.07 80.18 L254.98 80.67 L255.90 81.15 L256.81 81.64 L257.72 82.13 L258.64 82.62 L259.55 83.11 L260.46 83.60 L261.37 84.09 L262.29 84.58 L263.20 85.07 L264.11 85.56 L265.03 86.05 L265.94 86.54 L266.85 87.04 L267.76 87.53 L268.68 88.02 L269.59 88.51 L270.50 89.01 L271.42 89.50 L272.33 90.00 L273.24 90.49 L274.15 90.99 L275.07 91.48 L275.98 91.98 L276.89 92.48 L277.81 92.97 L278.72 93.47 L279.63 93.97 L280.54 94.47 L281.46 94.97 L282.37 95.47 L283.28 95.97 L284.20 96.47 L285.11 96.97 L286.02 97.47 L286.94 97.97 L287.85 98.48 L288.76 98.98 L289.67 99.48 L290.59 99.99 L291.50 100.49 L292.41 101.00 L293.33 101.51 L294.24 102.01 L295.15 102.52 L296.06 103.03 L296.98 103.55 L297.89 104.06 L298.80 104.57 L299.72 105.09 L300.63 105.60 L301.54 106.12 L302.45 106.64 L303.37 107.15 L304.28 107.67 L305.19 108.19 L306.11 108.71 L307.02 109.23 L307.93 109.75 L308.84 110.28 L309.76 110.80 L310.67 111.32 L311.58 111.84 L312.50 112.37 L313.41 112.89 L314.32 113.41 L315.23 113.93 L316.15 114.46 L317.06 114.98 L317.97 115.50 L318.89 116.03 L319.80 116.55 L320.71 117.07 L321.63 117.59 L322.54 118.11 L323.45 118.64 L324.36 119.16 L325.28 119.68 L326.19 120.20 L327.10 120.71 L328.02 121.23 L328.93 121.75 L329.84 122.27 L330.75 122.78 L331.67 123.30 L332.58 123.81 L333.49 124.32 L334.41 124.83 L335.32 125.35 L336.23 125.85 L337.14 126.36 L338.06 126.87 L338.97 127.38 L339.88 127.88 L340.80 128.39 L341.71 128.90 L342.62 129.40 L343.53 129.90 L344.45 130.41 L345.36 130.91 L346.27 131.41 L347.19 131.91 L348.10 132.42 L349.01 132.92 L349.92 133.42 L350.84 133.92 L351.75 134.42 L352.66 134.92 L353.58 135.42 L354.49 135.92 L355.40 136.41 L356.32 136.91 L357.23 137.41 L358.14 137.91 L359.05 138.41 L359.97 138.91 L360.88 139.41 L361.79 139.90 L362.71 140.40 L363.62 140.90 L364.53 141.40 L365.44 141.90 L366.36 142.39 L367.27 142.89 L368.18 143.39 L369.10 143.89 L370.01 144.39 L370.92 144.89 L371.83 145.39 L372.75 145.89 L373.66 146.39 L374.57 146.89 L375.49 147.39 L376.40 147.89 L377.31 148.39 L378.22 148.90 L379.14 149.40 L380.05 149.90 L380.96 150.41 L381.88 150.91 L382.79 151.42 L383.70 151.92 L384.61 152.43 L385.53 152.94 L386.44 153.44 L387.35 153.95 L388.27 154.46 L389.18 154.97 L390.09 155.48 L391.01 155.98 L391.92 156.49 L392.83 157.00 L393.74 157.51 L394.66 158.02 L395.57 158.53 L396.48 159.04 L397.40 159.55 L398.31 160.06 L399.22 160.57 L400.13 161.07 L401.05 161.58 L401.96 162.09 L402.87 162.60 L403.79 163.11 L404.70 163.62 L405.61 164.12 L406.52 164.63 L407.44 165.14 L408.35 165.64 L409.26 166.15 L410.18 166.65 L411.09 167.16 L412.00 167.66 L412.91 168.16 L413.83 168.67 L414.74 169.17 L415.65 169.67 L416.57 170.17 L417.48 170.67 L418.39 171.17 L419.30 171.67 L420.22 172.16 L421.13 172.66 L422.04 173.15 L422.96 173.65 L423.87 174.14 L424.78 174.63 L425.70 175.12 L426.61 175.61 L427.52 176.10 L428.43 176.59 L429.35 177.08 L430.26 177.57 L431.17 178.06 L432.09 178.54 L433.00 179.03 L433.91 179.51 L434.82 180.00 L435.74 180.48 L436.65 180.97 L437.56 181.45 L438.48 181.93 L439.39 182.41 L440.30 182.89 L441.21 183.37 L442.13 183.85 L443.04 184.33 L443.95 184.81 L444.87 185.29 L445.78 185.77 L446.69 186.25 L447.60 186.72 L448.52 187.20" stroke="#ff0000" stroke-dasharray="9.0 6.55" stroke-linecap="butt"/>
<path d="M84.27 19.80 L85.19 19.80 L86.10 19.80 L87.01 19.80 L87.92 19.80 L88.84 19.80 L89.75 19.80 L90.66 19.80 L91.58 19.80 L92.49 19.80 L93.40 19.80 L94.31 19.80 L95.23 19.80 L96.14 19.80 L97.05 19.80 L97.97 19.85 L98.88 20.01 L99.79 20.22 L100.70 20.47 L101.62 20.80 L102.53 21.20 L103.44 21.65 L104.36 22.22 L105.27 22.93 L106.18 23.72 L107.09 24.54 L108.01 25.36 L108.92 26.22 L109.83 27.13 L110.75 28.09 L111.66 29.09 L112.57 30.13 L113.49 31.23 L114.40 32.38 L115.31 33.58 L116.22 34.83 L117.14 36.12 L118.05 37.49 L118.96 38.95 L119.88 40.44 L120.79 41.93 L121.70 43.44 L122.61 44.96 L123.53 46.50 L124.44 48.03 L125.35 49.55 L126.27 51.05 L127.18 52.54 L128.09 54.04 L129.00 55.56 L129.92 57.12 L130.83 58.70 L131.74 60.29 L132.66 61.88 L133.57 63.47 L134.48 65.06 L135.39 66.67 L136.31 68.32 L137.22 70.00 L138.13 71.71 L139.05 73.44 L139.96 75.19 L140.87 76.94 L141.78 78.75 L142.70 80.59 L143.61 82.41 L144.52 84.17 L145.44 85.81 L146.35 87.41 L147.26 88.98 L148.18 90.52 L149.09 92.04 L150.00 93.53 L150.91 94.99 L151.83 96.44 L152.74 97.87 L153.65 99.29 L154.57 100.70 L155.48 102.09 L156.39 103.48 L157.30 104.86 L158.22 106.25 L159.13 107.63 L160.04 109.01 L160.96 110.40 L161.87 111.80 L162.78 113.20 L163.69 114.61 L164.61 116.02 L165.52 117.42 L166.43 118.82 L167.35 120.22 L168.26 121.62 L169.17 123.01 L170.08 124.40 L171.00 125.78 L171.91 127.15 L172.82 128.52 L173.74 129.88 L174.65 131.24 L175.56 132.58 L176.47 133.91 L177.39 135.24 L178.30 136.55 L179.21 137.85 L180.13 139.14 L181.04 140.43 L181.95 141.72 L182.87 143.00 L183.78 144.29 L184.69 145.56 L185.60 146.84 L186.52 148.11 L187.43 149.37 L188.34 150.63 L189.26 151.89 L190.17 153.14 L191.08 154.38 L191.99 155.62 L192.91 156.84 L193.82 158.06 L194.73 159.28 L195.65 160.48 L196.56 161.67 L197.47 162.86 L198.38 164.03 L199.30 165.19 L200.21 166.35 L201.12 167.49 L202.04 168.62 L202.95 169.73 L203.86 170.83 L204.77 171.92 L205.69 173.00 L206.60 174.06 L207.51 175.12 L208.43 176.17 L209.34 177.21 L210.25 178.24 L211.16 179.27 L212.08 180.28 L212.99 181.29 L213.90 182.30 L214.82 183.29 L215.73 184.28 L216.64 185.26 L217.56 186.24 L218.47 187.21 L219.38 188.18 L220.29 189.14 L221.21 190.09 L222.12 191.04 L223.03 191.98 L223.95 192.92 L224.86 193.86 L225.77 194.79 L226.68 195.71 L227.60 196.63 L228.51 197.55 L229.42 198.46 L230.34 199.37 L231.25 200.28 L232.16 201.19 L233.07 202.09 L233.99 202.99 L234.90 203.88 L235.81 204.77 L236.73 205.67 L237.64 206.56 L238.55 207.44 L239.46 208.33 L240.38 209.22 L241.29 210.10 L242.20 210.98 L243.12 211.87 L244.03 212.75 L244.94 213.63 L245.85 214.51 L246.77 215.39 L247.68 216.28 L248.59 217.16 L249.51 218.04 L250.42 218.92 L251.33 219.80 L252.25 220.68 L253.16 221.55 L254.07 222.43 L254.98 223.30 L255.90 224.17 L256.81 225.04 L257.72 225.90 L258.64 226.76 L259.55 227.63 L260.46 228.48 L261.37 229.34 L262.29 230.20 L263.20 231.05 L264.11 231.90 L265.03 232.75 L265.94 233.60 L266.85 234.44 L267.76 235.28 L268.68 236.12 L269.59 236.96 L270.50 237.80 L271.42 238.63 L272.33 239.46 L273.24 240.29 L274.15 241.12 L275.07 241.95 L275.98 242.77 L276.89 243.59 L277.81 244.41 L278.72 245.22 L279.63 246.04 L280.54 246.85 L281.46 247.66 L282.37 248.47 L283.28 249.27 L284.20 250.08 L285.11 250.88 L286.02 251.68 L286.94 252.47 L287.85 253.27 L288.76 254.06 L289.67 254.85 L290.59 255.63 L291.50 256.42 L292.41 257.20 L293.33 257.98 L294.24 258.76 L295.15 259.53 L296.06 260.30 L296.98 261.07 L297.89 261.84 L298.80 262.60 L299.72 263.37 L300.63 264.13 L301.54 264.88 L302.45 265.64 L303.37 266.39 L304.28 267.14 L305.19 267.89 L306.11 268.64 L307.02 269.38 L307.93 270.13 L308.84 270.87 L309.76 271.61 L310.67 272.34 L311.58 273.08 L312.50 273.81 L313.41 274.55 L314.32 275.28 L315.23 276.01 L316.15 276.73 L317.06 277.46 L317.97 278.18 L318.89 278.91 L319.80 279.63 L320.71 280.35 L321.63 281.07 L322.54 281.79 L323.45 282.50 L324.36 283.22 L325.28 283.94 L326.19 284.65 L327.10 285.36 L328.02 286.08 L328.93 286.79 L329.84 287.50 L330.75 288.21 L331.67 288.92 L332.58 289.62 L333.49 290.33 L334.41 291.04 L335.32 291.75 L336.23 292.45 L337.14 293.16 L338.06 293.86 L338.97 294.57 L339.88 295.27 L340.80 295.97 L341.71 296.67 L342.62 297.37 L343.53 298.07 L344.45 298.77 L345.36 299.47 L346.27 300.17 L347.19 300.86 L348.10 301.56 L349.01 302.25 L349.92 302.94 L350.84 303.63 L351.75 304.32 L352.66 305.01 L353.58 305.70 L354.49 306.39 L355.40 307.07 L356.32 307.76 L357.23 308.44 L358.14 309.12 L359.05 309.80 L359.97 310.48 L360.88 311.16 L361.79 311.83 L362.71 312.51 L363.62 313.18 L364.53 313.86 L365.44 314.53 L366.36 315.20 L367.27 315.86 L368.18 316.53 L369.10 317.19 L370.01 317.86 L370.92 318.52 L371.83 319.18 L372.75 319.84 L373.66 320.49 L374.57 321.15 L375.49 321.80 L376.40 322.45 L377.31 323.11 L378.22 323.75 L379.14 324.40 L380.05 325.04 L380.96 325.69 L381.88 326.32 L382.79 326.96 L383.70 327.59 L384.61 328.22 L385.53 328.85 L386.44 329.48 L387.35 330.10 L388.27 330.73 L389.18 331.35 L390.09 331.96 L391.01 332.58 L391.92 333.20 L392.83 333.81 L393.74 334.42 L394.66 335.03 L395.57 335.64 L396.48 336.25 L397.40 336.86 L398.31 337.47 L399.22 338.07 L400.13 338.68 L401.05 339.28 L401.96 339.89 L402.87 340.49 L403.79 341.09 L404.70 341.70 L405.61 342.30 L406.52 342.91 L407.44 343.51 L408.35 344.11 L409.26 344.72 L410.18 345.32 L411.09 345.93 L412.00 346.54 L412.91 347.14 L413.83 347.75 L414.74 348.36 L415.65 348.97 L416.57 349.58 L417.48 350.20 L418.39 350.81 L419.30 351.43 L420.22 352.05 L421.13 352.67 L422.04 353.29 L422.96 353.91 L423.87 354.54 L424.78 355.16 L425.70 355.79 L426.61 356.41 L427.52 357.04 L428.43 357.67 L429.35 358.30 L430.26 358.92 L431.17 359.55 L432.09 360.18 L433.00 360.81 L433.91 361.44 L434.82 362.08 L435.74 362.71 L436.65 363.34 L437.56 363.97 L438.48 364.61 L439.39 365.24 L440.30 365.87 L441.21 366.51 L442.13 367.14 L443.04 367.78 L443.95 368.41 L444.87 369.05 L445.78 369.69 L446.69 370.32 L447.60 370.96 L448.52 371.60" stroke="#ffa500" stroke-dasharray="9.0 6.55" stroke-linecap="butt"/>
<path d="M84.27 19.80 L85.19 19.80 L86.10 19.80 L87.01 19.80 L87.92 19.80 L88.84 19.80 L89.75 19.80 L90.66 19.80 L91.58 19.80 L92.49 19.80 L93.40 19.80 L94.31 19.80 L95.23 19.80 L96.14 19.91 L97.05 20.13 L97.97 20.43 L98.88 20.80 L99.79 21.21 L100.70 21.86 L101.62 22.72 L102.53 23.73 L103.44 24.82 L104.36 25.94 L105.27 27.01 L106.18 28.12 L107.09 29.29 L108.01 30.52 L108.92 31.78 L109.83 33.06 L110.75 34.34 L111.66 35.65 L112.57 36.99 L113.49 38.35 L114.40 39.72 L115.31 41.12 L116.22 42.52 L117.14 43.94 L118.05 45.37 L118.96 46.80 L119.88 48.25 L120.79 49.71 L121.70 51.20 L122.61 52.69 L123.53 54.20 L124.44 55.71 L125.35 57.23 L126.27 58.74 L127.18 60.25 L128.09 61.75 L129.00 63.26 L129.92 64.77 L130.83 66.29 L131.74 67.80 L132.66 69.32 L133.57 70.83 L134.48 72.33 L135.39 73.82 L136.31 75.30 L137.22 76.78 L138.13 78.26 L139.05 79.74 L139.96 81.21 L140.87 82.68 L141.78 84.13 L142.70 85.56 L143.61 86.96 L144.52 88.33 L145.44 89.66 L146.35 90.96 L147.26 92.23 L148.18 93.48 L149.09 94.71 L150.00 95.93 L150.91 97.14 L151.83 98.35 L152.74 99.57 L153.65 100.80 L154.57 102.05 L155.48 103.30 L156.39 104.57 L157.30 105.83 L158.22 107.09 L159.13 108.33 L160.04 109.56 L160.96 110.76 L161.87 111.93 L162.78 113.06 L163.69 114.18 L164.61 115.28 L165.52 116.37 L166.43 117.45 L167.35 118.51 L168.26 119.56 L169.17 120.61 L170.08 121.64 L171.00 122.66 L171.91 123.67 L172.82 124.68 L173.74 125.67 L174.65 126.66 L175.56 127.64 L176.47 128.62 L177.39 129.59 L178.30 130.56 L179.21 131.52 L180.13 132.48 L181.04 133.43 L181.95 134.38 L182.87 135.32 L183.78 136.26 L184.69 137.19 L185.60 138.12 L186.52 139.05 L187.43 139.97 L188.34 140.88 L189.26 141.79 L190.17 142.69 L191.08 143.59 L191.99 144.49 L192.91 145.38 L193.82 146.26 L194.73 147.15 L195.65 148.02 L196.56 148.90 L197.47 149.77 L198.38 150.63 L199.30 151.49 L200.21 152.35 L201.12 153.20 L202.04 154.05 L202.95 154.89 L203.86 155.73 L204.77 156.57 L205.69 157.40 L206.60 158.23 L207.51 159.05 L208.43 159.88 L209.34 160.69 L210.25 161.51 L211.16 162.32 L212.08 163.13 L212.99 163.93 L213.90 164.74 L214.82 165.53 L215.73 166.33 L216.64 167.12 L217.56 167.91 L218.47 168.70 L219.38 169.49 L220.29 170.27 L221.21 171.05 L222.12 171.83 L223.03 172.60 L223.95 173.37 L224.86 174.14 L225.77 174.91 L226.68 175.68 L227.60 176.44 L228.51 177.20 L229.42 177.96 L230.34 178.72 L231.25 179.47 L232.16 180.22 L233.07 180.98 L233.99 181.72 L234.90 182.47 L235.81 183.22 L236.73 183.96 L237.64 184.71 L238.55 185.45 L239.46 186.19 L240.38 186.93 L241.29 187.67 L242.20 188.40 L243.12 189.14 L244.03 189.87 L244.94 190.61 L245.85 191.34 L246.77 192.07 L247.68 192.80 L248.59 193.54 L249.51 194.26 L250.42 194.99 L251.33 195.72 L252.25 196.45 L253.16 197.17 L254.07 197.89 L254.98 198.62 L255.90 199.34 L256.81 200.06 L257.72 200.78 L258.64 201.49 L259.55 202.21 L260.46 202.92 L261.37 203.63 L262.29 204.35 L263.20 205.06 L264.11 205.76 L265.03 206.47 L265.94 207.18 L266.85 207.88 L267.76 208.58 L268.68 209.28 L269.59 209.98 L270.50 210.68 L271.42 211.37 L272.33 212.07 L273.24 212.76 L274.15 213.45 L275.07 214.14 L275.98 214.83 L276.89 215.52 L277.81 216.20 L278.72 216.88 L279.63 217.56 L280.54 218.24 L281.46 218.92 L282.37 219.59 L283.28 220.27 L284.20 220.94 L285.11 221.61 L286.02 222.28 L286.94 222.94 L287.85 223.61 L288.76 224.27 L289.67 224.93 L290.59 225.59 L291.50 226.25 L292.41 226.90 L293.33 227.55 L294.24 228.20 L295.15 228.85 L296.06 229.49 L296.98 230.14 L297.89 230.78 L298.80 231.42 L299.72 232.05 L300.63 232.69 L301.54 233.32 L302.45 233.95 L303.37 234.58 L304.28 235.21 L305.19 235.83 L306.11 236.46 L307.02 237.08 L307.93 237.70 L308.84 238.32 L309.76 238.94 L310.67 239.56 L311.58 240.17 L312.50 240.79 L313.41 241.40 L314.32 242.01 L315.23 242.62 L316.15 243.23 L317.06 243.84 L317.97 244.45 L318.89 245.05 L319.80 245.66 L320.71 246.27 L321.63 246.87 L322.54 247.47 L323.45 248.08 L324.36 248.68 L325.28 249.28 L326.19 249.89 L327.10 250.49 L328.02 251.09 L328.93 251.69 L329.84 252.29 L330.75 252.89 L331.67 253.49 L332.58 254.10 L333.49 254.70 L334.41 255.30 L335.32 255.90 L336.23 256.50 L337.14 257.10 L338.06 257.70 L338.97 258.30 L339.88 258.91 L340.80 259.51 L341.71 260.11 L342.62 260.71 L343.53 261.31 L344.45 261.91 L345.36 262.50 L346.27 263.10 L347.19 263.70 L348.10 264.30 L349.01 264.90 L349.92 265.49 L350.84 266.09 L351.75 266.68 L352.66 267.28 L353.58 267.87 L354.49 268.46 L355.40 269.06 L356.32 269.65 L357.23 270.24 L358.14 270.83 L359.05 271.42 L359.97 272.00 L360.88 272.59 L361.79 273.18 L362.71 273.76 L363.62 274.35 L364.53 274.93 L365.44 275.51 L366.36 276.09 L367.27 276.67 L368.18 277.25 L369.10 277.83 L370.01 278.41 L370.92 278.98 L371.83 279.56 L372.75 280.13 L373.66 280.70 L374.57 281.27 L375.49 281.84 L376.40 282.41 L377.31 282.97 L378.22 283.54 L379.14 284.10 L380.05 284.66 L380.96 285.22 L381.88 285.77 L382.79 286.33 L383.70 286.88 L384.61 287.43 L385.53 287.98 L386.44 288.52 L387.35 289.06 L388.27 289.60 L389.18 290.14 L390.09 290.68 L391.01 291.22 L391.92 291.76 L392.83 292.29 L393.74 292.82 L394.66 293.36 L395.57 293.89 L396.48 294.42 L397.40 294.95 L398.31 295.48 L399.22 296.01 L400.13 296.54 L401.05 297.07 L401.96 297.60 L402.87 298.12 L403.79 298.65 L404.70 299.18 L405.61 299.71 L406.52 300.24 L407.44 300.77 L408.35 301.30 L409.26 301.83 L410.18 302.37 L411.09 302.90 L412.00 303.44 L412.91 303.97 L413.83 304.51 L414.74 305.05 L415.65 305.59 L416.57 306.13 L417.48 306.67 L418.39 307.22 L419.30 307.77 L420.22 308.32 L421.13 308.87 L422.04 309.42 L422.96 309.98 L423.87 310.54 L424.78 311.09 L425.70 311.66 L426.61 312.22 L427.52 312.78 L428.43 313.34 L429.35 313.91 L430.26 314.47 L431.17 315.04 L432.09 315.61 L433.00 316.18 L433.91 316.75 L434.82 317.32 L435.74 317.89 L436.65 318.47 L437.56 319.04 L438.48 319.62 L439.39 320.19 L440.30 320.77 L441.21 321.35 L442.13 321.93 L443.04 322.51 L443.95 323.09 L444.87 323.67 L445.78 324.25 L446.69 324.83 L447.60 325.42 L448.52 326.00" stroke="#008000" stroke-dasharray="9.0 6.55" stroke-linecap="butt"/>
<path d="M84.27 19.80 L85.19 19.80 L86.10 19.80 L87.01 19.80 L87.92 19.80 L88.84 19.80 L89.75 19.80 L90.66 19.80 L91.58 19.80 L92.49 19.80 L93.40 19.80 L94.31 19.80 L95.23 19.80 L96.14 19.80 L97.05 20.33 L97.97 21.47 L98.88 22.78 L99.79 23.91 L100.70 25.02 L101.62 26.17 L102.53 27.35 L103.44 28.54 L104.36 29.74 L105.27 30.94 L106.18 32.14 L107.09 33.34 L108.01 34.56 L108.92 35.80 L109.83 37.06 L110.75 38.35 L111.66 39.67 L112.57 41.00 L113.49 42.36 L114.40 43.74 L115.31 45.13 L116.22 46.53 L117.14 47.94 L118.05 49.37 L118.96 50.80 L119.88 52.26 L120.79 53.77 L121.70 55.30 L122.61 56.85 L123.53 58.40 L124.44 59.94 L125.35 61.45 L126.27 62.91 L127.18 64.32 L128.09 65.66 L129.00 66.95 L129.92 68.20 L130.83 69.42 L131.74 70.61 L132.66 71.79 L133.57 72.96 L134.48 74.13 L135.39 75.31 L136.31 76.50 L137.22 77.72 L138.13 78.96 L139.05 80.21 L139.96 81.45 L140.87 82.68 L141.78 83.87 L142.70 85.03 L143.61 86.12 L144.52 87.15 L145.44 88.10 L146.35 89.01 L147.26 89.88 L148.18 90.76 L149.09 91.66 L150.00 92.60 L150.91 93.62 L151.83 94.69 L152.74 95.77 L153.65 96.83 L154.57 97.83 L155.48 98.79 L156.39 99.72 L157.30 100.63 L158.22 101.52 L159.13 102.40 L160.04 103.27 L160.96 104.12 L161.87 104.98 L162.78 105.82 L163.69 106.65 L164.61 107.48 L165.52 108.28 L166.43 109.09 L167.35 109.88 L168.26 110.68 L169.17 111.47 L170.08 112.26 L171.00 113.05 L171.91 113.84 L172.82 114.63 L173.74 115.41 L174.65 116.19 L175.56 116.96 L176.47 117.74 L177.39 118.50 L178.30 119.27 L179.21 120.02 L180.13 120.78 L181.04 121.53 L181.95 122.28 L182.87 123.03 L183.78 123.78 L184.69 124.53 L185.60 125.28 L186.52 126.03 L187.43 126.78 L188.34 127.52 L189.26 128.27 L190.17 129.01 L191.08 129.74 L191.99 130.48 L192.91 131.21 L193.82 131.94 L194.73 132.66 L195.65 133.38 L196.56 134.10 L197.47 134.81 L198.38 135.52 L199.30 136.23 L200.21 136.92 L201.12 137.62 L202.04 138.31 L202.95 138.99 L203.86 139.67 L204.77 140.34 L205.69 141.00 L206.60 141.66 L207.51 142.31 L208.43 142.96 L209.34 143.61 L210.25 144.25 L211.16 144.88 L212.08 145.52 L212.99 146.14 L213.90 146.77 L214.82 147.39 L215.73 148.01 L216.64 148.62 L217.56 149.24 L218.47 149.85 L219.38 150.45 L220.29 151.05 L221.21 151.66 L222.12 152.25 L223.03 152.85 L223.95 153.44 L224.86 154.04 L225.77 154.63 L226.68 155.21 L227.60 155.80 L228.51 156.39 L229.42 156.97 L230.34 157.56 L231.25 158.14 L232.16 158.72 L233.07 159.30 L233.99 159.88 L234.90 160.46 L235.81 161.04 L236.73 161.62 L237.64 162.20 L238.55 162.78 L239.46 163.36 L240.38 163.94 L241.29 164.52 L242.20 165.10 L243.12 165.68 L244.03 166.27 L244.94 166.85 L245.85 167.44 L246.77 168.02 L247.68 168.61 L248.59 169.20 L249.51 169.80 L250.42 170.39 L251.33 170.98 L252.25 171.57 L253.16 172.17 L254.07 172.76 L254.98 173.35 L255.90 173.94 L256.81 174.53 L257.72 175.13 L258.64 175.72 L259.55 176.31 L260.46 176.90 L261.37 177.49 L262.29 178.08 L263.20 178.67 L264.11 179.26 L265.03 179.85 L265.94 180.44 L266.85 181.03 L267.76 181.62 L268.68 182.20 L269.59 182.79 L270.50 183.38 L271.42 183.97 L272.33 184.55 L273.24 185.14 L274.15 185.72 L275.07 186.31 L275.98 186.89 L276.89 187.48 L277.81 188.06 L278.72 188.64 L279.63 189.23 L280.54 189.81 L281.46 190.39 L282.37 190.97 L283.28 191.55 L284.20 192.13 L285.11 192.70 L286.02 193.28 L286.94 193.86 L287.85 194.43 L288.76 195.01 L289.67 195.58 L290.59 196.16 L291.50 196.73 L292.41 197.30 L293.33 197.87 L294.24 198.44 L295.15 199.01 L296.06 199.58 L296.98 200.15 L297.89 200.72 L298.80 201.29 L299.72 201.86 L300.63 202.43 L301.54 202.99 L302.45 203.56 L303.37 204.13 L304.28 204.69 L305.19 205.26 L306.11 205.82 L307.02 206.39 L307.93 206.95 L308.84 207.51 L309.76 208.08 L310.67 208.64 L311.58 209.20 L312.50 209.76 L313.41 210.32 L314.32 210.88 L315.23 211.44 L316.15 212.00 L317.06 212.55 L317.97 213.11 L318.89 213.67 L319.80 214.22 L320.71 214.77 L321.63 215.33 L322.54 215.88 L323.45 216.43 L324.36 216.98 L325.28 217.53 L326.19 218.08 L327.10 218.63 L328.02 219.18 L328.93 219.73 L329.84 220.27 L330.75 220.82 L331.67 221.36 L332.58 221.91 L333.49 222.45 L334.41 222.99 L335.32 223.53 L336.23 224.07 L337.14 224.61 L338.06 225.15 L338.97 225.68 L339.88 226.22 L340.80 226.75 L341.71 227.29 L342.62 227.82 L343.53 228.35 L344.45 228.89 L345.36 229.42 L346.27 229.95 L347.19 230.48 L348.10 231.01 L349.01 231.53 L349.92 232.06 L350.84 232.59 L351.75 233.11 L352.66 233.64 L353.58 234.16 L354.49 234.69 L355.40 235.21 L356.32 235.73 L357.23 236.26 L358.14 236.78 L359.05 237.30 L359.97 237.82 L360.88 238.34 L361.79 238.86 L362.71 239.37 L363.62 239.89 L364.53 240.41 L365.44 240.92 L366.36 241.44 L367.27 241.95 L368.18 242.47 L369.10 242.98 L370.01 243.50 L370.92 244.01 L371.83 244.52 L372.75 245.03 L373.66 245.54 L374.57 246.05 L375.49 246.56 L376.40 247.07 L377.31 247.58 L378.22 248.09 L379.14 248.60 L380.05 249.11 L380.96 249.61 L381.88 250.12 L382.79 250.63 L383.70 251.13 L384.61 251.63 L385.53 252.14 L386.44 252.64 L387.35 253.14 L388.27 253.64 L389.18 254.14 L390.09 254.64 L391.01 255.14 L391.92 255.64 L392.83 256.14 L393.74 256.64 L394.66 257.13 L395.57 257.63 L396.48 258.13 L397.40 258.62 L398.31 259.12 L399.22 259.61 L400.13 260.10 L401.05 260.60 L401.96 261.09 L402.87 261.58 L403.79 262.08 L404.70 262.57 L405.61 263.06 L406.52 263.55 L407.44 264.04 L408.35 264.53 L409.26 265.02 L410.18 265.51 L411.09 266.00 L412.00 266.49 L412.91 266.98 L413.83 267.47 L414.74 267.96 L415.65 268.44 L416.57 268.93 L417.48 269.42 L418.39 269.91 L419.30 270.39 L420.22 270.88 L421.13 271.37 L422.04 271.86 L422.96 272.34 L423.87 272.83 L424.78 273.32 L425.70 273.80 L426.61 274.29 L427.52 274.77 L428.43 275.26 L429.35 275.74 L430.26 276.22 L431.17 276.70 L432.09 277.19 L433.00 277.67 L433.91 278.15 L434.82 278.63 L435.74 279.11 L436.65 279.59 L437.56 280.07 L438.48 280.55 L439.39 281.03 L440.30 281.51 L441.21 281.99 L442.13 282.46 L443.04 282.94 L443.95 283.42 L444.87 283.90 L445.78 284.37 L446.69 284.85 L447.60 285.32 L448.52 285.80" stroke="#0000ff" stroke-dasharray="9.0 6.55" stroke-linecap="butt"/>
<path d="M84.27 19.80 L85.19 19.80 L86.10 19.80 L87.01 19.80 L87.92 19.80 L88.84 19.80 L89.75 19.80 L90.66 19.80 L91.58 19.80 L92.49 19.80 L93.40 19.80 L94.31 19.80 L95.23 19.80 L96.14 19.88 L97.05 20.29 L97.97 20.91 L98.88 21.62 L99.79 22.35 L100.70 23.22 L101.62 24.25 L102.53 25.38 L103.44 26.57 L104.36 27.77 L105.27 28.93 L106.18 30.10 L107.09 31.30 L108.01 32.53 L108.92 33.78 L109.83 35.06 L110.75 36.35 L111.66 37.67 L112.57 39.00 L113.49 40.36 L114.40 41.74 L115.31 43.13 L116.22 44.53 L117.14 45.94 L118.05 47.37 L118.96 48.80 L119.88 50.25 L120.79 51.71 L121.70 53.20 L122.61 54.69 L123.53 56.20 L124.44 57.71 L125.35 59.23 L126.27 60.74 L127.18 62.25 L128.09 63.75 L129.00 65.26 L129.92 66.76 L130.83 68.27 L131.74 69.79 L132.66 71.30 L133.57 72.80 L134.48 74.31 L135.39 75.81 L136.31 77.30 L137.22 78.79 L138.13 80.28 L139.05 81.77 L139.96 83.26 L140.87 84.74 L141.78 86.22 L142.70 87.68 L143.61 89.14 L144.52 90.58 L145.44 92.02 L146.35 93.45 L147.26 94.88 L148.18 96.30 L149.09 97.71 L150.00 99.11 L150.91 100.49 L151.83 101.85 L152.74 103.19 L153.65 104.50 L154.57 105.78 L155.48 107.03 L156.39 108.27 L157.30 109.48 L158.22 110.68 L159.13 111.87 L160.04 113.05 L160.96 114.23 L161.87 115.41 L162.78 116.59 L163.69 117.78 L164.61 118.97 L165.52 120.16 L166.43 121.35 L167.35 122.54 L168.26 123.73 L169.17 124.91 L170.08 126.09 L171.00 127.27 L171.91 128.43 L172.82 129.59 L173.74 130.74 L174.65 131.88 L175.56 133.01 L176.47 134.12 L177.39 135.22 L178.30 136.30 L179.21 137.37 L180.13 138.42 L181.04 139.47 L181.95 140.50 L182.87 141.52 L183.78 142.54 L184.69 143.55 L185.60 144.55 L186.52 145.54 L187.43 146.52 L188.34 147.50 L189.26 148.47 L190.17 149.44 L191.08 150.40 L191.99 151.35 L192.91 152.30 L193.82 153.24 L194.73 154.17 L195.65 155.10 L196.56 156.03 L197.47 156.95 L198.38 157.87 L199.30 158.79 L200.21 159.70 L201.12 160.60 L202.04 161.51 L202.95 162.41 L203.86 163.31 L204.77 164.21 L205.69 165.10 L206.60 165.99 L207.51 166.88 L208.43 167.77 L209.34 168.65 L210.25 169.53 L211.16 170.41 L212.08 171.29 L212.99 172.16 L213.90 173.03 L214.82 173.89 L215.73 174.76 L216.64 175.62 L217.56 176.48 L218.47 177.33 L219.38 178.19 L220.29 179.04 L221.21 179.88 L222.12 180.73 L223.03 181.57 L223.95 182.41 L224.86 183.25 L225.77 184.08 L226.68 184.92 L227.60 185.75 L228.51 186.57 L229.42 187.40 L230.34 188.22 L231.25 189.04 L232.16 189.86 L233.07 190.68 L233.99 191.49 L234.90 192.30 L235.81 193.11 L236.73 193.92 L237.64 194.72 L238.55 195.52 L239.46 196.32 L240.38 197.12 L241.29 197.92 L242.20 198.71 L243.12 199.50 L244.03 200.29 L244.94 201.08 L245.85 201.87 L246.77 202.65 L247.68 203.43 L248.59 204.21 L249.51 204.99 L250.42 205.76 L251.33 206.54 L252.25 207.31 L253.16 208.08 L254.07 208.85 L254.98 209.62 L255.90 210.38 L256.81 211.14 L257.72 211.90 L258.64 212.66 L259.55 213.42 L260.46 214.17 L261.37 214.92 L262.29 215.68 L263.20 216.42 L264.11 217.17 L265.03 217.92 L265.94 218.66 L266.85 219.40 L267.76 220.14 L268.68 220.87 L269.59 221.61 L270.50 222.34 L271.42 223.07 L272.33 223.80 L273.24 224.53 L274.15 225.25 L275.07 225.97 L275.98 226.69 L276.89 227.41 L277.81 228.13 L278.72 228.84 L279.63 229.55 L280.54 230.26 L281.46 230.97 L282.37 231.68 L283.28 232.38 L284.20 233.08 L285.11 233.78 L286.02 234.48 L286.94 235.17 L287.85 235.87 L288.76 236.56 L289.67 237.25 L290.59 237.93 L291.50 238.62 L292.41 239.30 L293.33 239.98 L294.24 240.66 L295.15 241.33 L296.06 242.00 L296.98 242.67 L297.89 243.34 L298.80 244.00 L299.72 244.66 L300.63 245.32 L301.54 245.97 L302.45 246.63 L303.37 247.28 L304.28 247.93 L305.19 248.58 L306.11 249.22 L307.02 249.87 L307.93 250.51 L308.84 251.15 L309.76 251.79 L310.67 252.43 L311.58 253.06 L312.50 253.70 L313.41 254.33 L314.32 254.96 L315.23 255.59 L316.15 256.22 L317.06 256.85 L317.97 257.47 L318.89 258.10 L319.80 258.73 L320.71 259.35 L321.63 259.97 L322.54 260.60 L323.45 261.22 L324.36 261.84 L325.28 262.46 L326.19 263.08 L327.10 263.70 L328.02 264.32 L328.93 264.94 L329.84 265.57 L330.75 266.19 L331.67 266.81 L332.58 267.43 L333.49 268.05 L334.41 268.67 L335.32 269.29 L336.23 269.91 L337.14 270.53 L338.06 271.15 L338.97 271.77 L339.88 272.39 L340.80 273.01 L341.71 273.63 L342.62 274.25 L343.53 274.87 L344.45 275.49 L345.36 276.11 L346.27 276.73 L347.19 277.34 L348.10 277.96 L349.01 278.57 L349.92 279.19 L350.84 279.80 L351.75 280.42 L352.66 281.03 L353.58 281.64 L354.49 282.25 L355.40 282.86 L356.32 283.47 L357.23 284.08 L358.14 284.69 L359.05 285.30 L359.97 285.90 L360.88 286.51 L361.79 287.11 L362.71 287.72 L363.62 288.32 L364.53 288.92 L365.44 289.52 L366.36 290.12 L367.27 290.72 L368.18 291.32 L369.10 291.92 L370.01 292.51 L370.92 293.11 L371.83 293.70 L372.75 294.29 L373.66 294.88 L374.57 295.47 L375.49 296.06 L376.40 296.65 L377.31 297.23 L378.22 297.82 L379.14 298.40 L380.05 298.98 L380.96 299.56 L381.88 300.14 L382.79 300.72 L383.70 301.29 L384.61 301.87 L385.53 302.44 L386.44 303.01 L387.35 303.58 L388.27 304.15 L389.18 304.71 L390.09 305.28 L391.01 305.85 L391.92 306.41 L392.83 306.97 L393.74 307.53 L394.66 308.10 L395.57 308.66 L396.48 309.21 L397.40 309.77 L398.31 310.33 L399.22 310.89 L400.13 311.44 L401.05 312.00 L401.96 312.56 L402.87 313.11 L403.79 313.66 L404.70 314.22 L405.61 314.77 L406.52 315.33 L407.44 315.88 L408.35 316.43 L409.26 316.98 L410.18 317.54 L411.09 318.09 L412.00 318.64 L412.91 319.19 L413.83 319.74 L414.74 320.30 L415.65 320.85 L416.57 321.40 L417.48 321.95 L418.39 322.51 L419.30 323.06 L420.22 323.61 L421.13 324.17 L422.04 324.72 L422.96 325.28 L423.87 325.83 L424.78 326.39 L425.70 326.94 L426.61 327.49 L427.52 328.05 L428.43 328.60 L429.35 329.15 L430.26 329.71 L431.17 330.26 L432.09 330.81 L433.00 331.36 L433.91 331.91 L434.82 332.46 L435.74 333.01 L436.65 333.57 L437.56 334.12 L438.48 334.67 L439.39 335.22 L440.30 335.76 L441.21 336.31 L442.13 336.86 L443.04 337.41 L443.95 337.96 L444.87 338.51 L445.78 339.06 L446.69 339.60 L447.60 340.15 L448.52 340.70" stroke="#800080" stroke-dasharray="9.0 6.55" stroke-linecap="butt"/>
</g>
<g stroke="#000" fill="none">
<line x1="75.60" y1="390.0" x2="75.60" y2="384.70" stroke-width="1.1"/>
<line x1="162.32" y1="390.0" x2="162.32" y2="384.70" stroke-width="1.1"/>
<line x1="249.05" y1="390.0" x2="249.05" y2="384.70" stroke-width="1.1"/>
<line x1="335.77" y1="390.0" x2="335.77" y2="384.70" stroke-width="1.1"/>
<line x1="422.50" y1="390.0" x2="422.50" y2="384.70" stroke-width="1.1"/>
<line x1="67.1" y1="19.80" x2="72.50" y2="19.80" stroke-width="1.1"/>
<line x1="67.1" y1="148.75" x2="72.50" y2="148.75" stroke-width="1.1"/>
<line x1="67.1" y1="277.70" x2="72.50" y2="277.70" stroke-width="1.1"/>
<line x1="67.1" y1="109.93" x2="70.30" y2="109.93" stroke-width="0.85"/>
<line x1="67.1" y1="87.23" x2="70.30" y2="87.23" stroke-width="0.85"/>
<line x1="67.1" y1="71.11" x2="70.30" y2="71.11" stroke-width="0.85"/>
<line x1="67.1" y1="58.62" x2="70.30" y2="58.62" stroke-width="0.85"/>
<line x1="67.1" y1="48.41" x2="70.30" y2="48.41" stroke-width="0.85"/>
<line x1="67.1" y1="39.77" x2="70.30" y2="39.77" stroke-width="0.85"/>
<line x1="67.1" y1="32.30" x2="70.30" y2="32.30" stroke-width="0.85"/>
<line x1="67.1" y1="25.70" x2="70.30" y2="25.70" stroke-width="0.85"/>
<line x1="67.1" y1="238.88" x2="70.30" y2="238.88" stroke-width="0.85"/>
<line x1="67.1" y1="216.18" x2="70.30" y2="216.18" stroke-width="0.85"/>
<line x1="67.1" y1="200.06" x2="70.30" y2="200.06" stroke-width="0.85"/>
<line x1="67.1" y1="187.57" x2="70.30" y2="187.57" stroke-width="0.85"/>
<line x1="67.1" y1="177.36" x2="70.30" y2="177.36" stroke-width="0.85"/>
<line x1="67.1" y1="168.72" x2="70.30" y2="168.72" stroke-width="0.85"/>
<line x1="67.1" y1="161.25" x2="70.30" y2="161.25" stroke-width="0.85"/>
<line x1="67.1" y1="154.65" x2="70.30" y2="154.65" stroke-width="0.85"/>
<line x1="67.1" y1="367.83" x2="70.30" y2="367.83" stroke-width="0.85"/>
<line x1="67.1" y1="345.13" x2="70.30" y2="345.13" stroke-width="0.85"/>
<line x1="67.1" y1="329.01" x2="70.30" y2="329.01" stroke-width="0.85"/>
<line x1="67.1" y1="316.52" x2="70.30" y2="316.52" stroke-width="0.85"/>
<line x1="67.1" y1="306.31" x2="70.30" y2="306.31" stroke-width="0.85"/>
<line x1="67.1" y1="297.67" x2="70.30" y2="297.67" stroke-width="0.85"/>
<line x1="67.1" y1="290.20" x2="70.30" y2="290.20" stroke-width="0.85"/>
<line x1="67.1" y1="283.60" x2="70.30" y2="283.60" stroke-width="0.85"/>
</g>
<rect x="67.1" y="2.2" width="390.20" height="387.80" fill="none" stroke="#1a1a1a" stroke-width="1.45"/>
<text transform="translate(0 407.00) scale(1.0000 1.0000) skewX(0.05)" x="63.87 73.40 78.56" y="0" font-size="15.75">0.0</text>
<text transform="translate(0 407.00) scale(1.0000 1.0000) skewX(0.05)" x="150.60 160.13 165.23" y="0" font-size="15.75">0.5</text>
<text transform="translate(0 407.00) scale(1.0000 1.0000) skewX(0.05)" x="237.24 246.85 252.01" y="0" font-size="15.75">1.0</text>
<text transform="translate(0 407.00) scale(1.0000 1.0000) skewX(0.05)" x="323.97 333.58 338.68" y="0" font-size="15.75">1.5</text>
<text transform="translate(0 407.00) scale(1.0000 1.0000) skewX(0.05)" x="410.57 420.30 425.46" y="0" font-size="15.75">2.0</text>
<text transform="translate(0 25.90) scale(1.0000 1.0000) skewX(0.05)" x="34.88 44.50" y="0" font-size="15.89">10</text>
<text transform="translate(0 19.90) scale(1.0000 1.0000) skewX(0.05)" x="54.64" y="0" font-size="11.34">0</text>
<text transform="translate(0 154.85) scale(1.0000 1.0000) skewX(0.05)" x="26.98 36.60" y="0" font-size="15.89">10</text>
<text transform="translate(0 148.85) scale(1.0000 1.0000) skewX(0.05)" x="47.14 55.12" y="0" font-size="11.34">−1</text>
<text transform="translate(0 283.80) scale(1.0000 1.0000) skewX(0.05)" x="26.78 36.40" y="0" font-size="15.89">10</text>
<text transform="translate(0 277.80) scale(1.0000 1.0000) skewX(0.05)" x="47.04 54.94" y="0" font-size="11.34">−2</text>
<text transform="translate(0 431.00) scale(0.9704 1.0000) skewX(0.05)" x="237.40 249.04 263.89 276.73 284.66 297.05" y="0" font-size="18.86">PGA(g)</text>
<text transform="translate(15.20 195.90) rotate(-90) translate(0 0.00) scale(1.0000 1.0000) skewX(0.05)" x="-71.55 -60.32 -50.02 -37.87 -31.58 -26.33 -15.31 -8.96 2.78 13.87 20.41 31.00 41.55 54.09 60.83" y="0" font-size="18.86">PoE in 50 years</text>
<rect x="476.6" y="45.6" width="206.2" height="231.3" rx="3.5" ry="3.5" fill="#fff" stroke="#c4c4c4" stroke-width="1.2"/>
<line x1="483.0" y1="58.00" x2="514.0" y2="58.00" stroke="#ff0000" stroke-width="1.7" stroke-linecap="square"/>
<text transform="translate(0 63.60) scale(0.9673 1.0000) skewX(0.05)" x="544.59 556.98 566.42 576.78 581.24 585.78 595.79 605.33 611.37 621.96 633.45 643.95 655.13 659.45 668.51 679.68" y="0" font-size="15.85">Hualien(SHERIFS)</text>
<line x1="483.0" y1="80.71" x2="514.0" y2="80.71" stroke="#ffa500" stroke-width="1.7" stroke-linecap="square"/>
<text transform="translate(0 86.31) scale(0.9701 1.0000) skewX(0.05)" x="542.48 551.60 561.58 571.57 581.62 586.06 590.73 600.24 606.27 616.82 628.28 638.75 649.91 654.21 663.25 674.39" y="0" font-size="15.85">Fenglin(SHERIFS)</text>
<line x1="483.0" y1="103.42" x2="514.0" y2="103.42" stroke="#008000" stroke-width="1.7" stroke-linecap="square"/>
<text transform="translate(0 109.02) scale(0.9585 1.0000) skewX(0.05)" x="549.45 560.47 570.53 574.89 583.64 593.70 597.81 603.94 614.62 626.22 636.82 648.06 652.45 661.60 672.85" y="0" font-size="15.85">Ruisui(SHERIFS)</text>
<line x1="483.0" y1="126.13" x2="514.0" y2="126.13" stroke="#0000ff" stroke-width="1.7" stroke-linecap="square"/>
<text transform="translate(0 131.73) scale(0.9698 1.0000) skewX(0.05)" x="542.65 554.70 564.63 568.91 577.60 586.97 597.55 607.54 617.21 623.24 633.79 645.25 655.72 666.88 671.18 680.23 691.38" y="0" font-size="15.85">Chishang(SHERIFS)</text>
<line x1="483.0" y1="148.84" x2="514.0" y2="148.84" stroke="#800080" stroke-width="1.7" stroke-linecap="square"/>
<text transform="translate(0 154.44) scale(0.9897 1.0000) skewX(0.05)" x="531.91 538.75 548.96 553.72 559.55 569.54 579.34 588.84 594.70 605.03 616.27 626.52 637.53 641.69 650.55 661.53" y="0" font-size="15.85">Taitung(SHERIFS)</text>
<line x1="483.0" y1="171.55" x2="514.0" y2="171.55" stroke="#ff0000" stroke-width="1.7" stroke-dasharray="9.0 6.55"/>
<text transform="translate(0 177.15) scale(0.9731 1.0000) skewX(0.05)" x="541.34 553.66 563.05 573.37 577.80 582.29 592.24 601.73 607.67 617.24 628.32 639.54" y="0" font-size="15.85">Hualien(PCE)</text>
<line x1="483.0" y1="194.26" x2="514.0" y2="194.26" stroke="#ffa500" stroke-width="1.7" stroke-dasharray="9.0 6.55"/>
<text transform="translate(0 199.86) scale(0.9770 1.0000) skewX(0.05)" x="538.60 547.66 557.57 567.49 577.48 581.90 586.51 595.97 601.87 611.40 622.43 633.62" y="0" font-size="15.85">Fenglin(PCE)</text>
<line x1="483.0" y1="216.97" x2="514.0" y2="216.97" stroke="#008000" stroke-width="1.7" stroke-dasharray="9.0 6.55"/>
<text transform="translate(0 222.57) scale(0.9614 1.0000) skewX(0.05)" x="547.77 558.76 568.80 573.14 581.85 591.89 595.99 602.03 611.72 622.93 634.24" y="0" font-size="15.85">Ruisui(PCE)</text>
<line x1="483.0" y1="239.68" x2="514.0" y2="239.68" stroke="#0000ff" stroke-width="1.7" stroke-dasharray="9.0 6.55"/>
<text transform="translate(0 245.28) scale(0.9755 1.0000) skewX(0.05)" x="539.45 551.45 561.33 565.58 574.21 583.52 594.04 603.98 613.60 619.52 629.05 640.11 651.31" y="0" font-size="15.85">Chishang(PCE)</text>
<line x1="483.0" y1="262.39" x2="514.0" y2="262.39" stroke="#800080" stroke-width="1.7" stroke-dasharray="9.0 6.55"/>
<text transform="translate(0 267.99) scale(1.0000 1.0000) skewX(0.05)" x="526.40 533.17 543.30 548.00 553.76 563.65 573.35 582.76 588.47 597.77 608.55 619.57" y="0" font-size="15.85">Taitung(PCE)</text>
</g></svg></body></html>
